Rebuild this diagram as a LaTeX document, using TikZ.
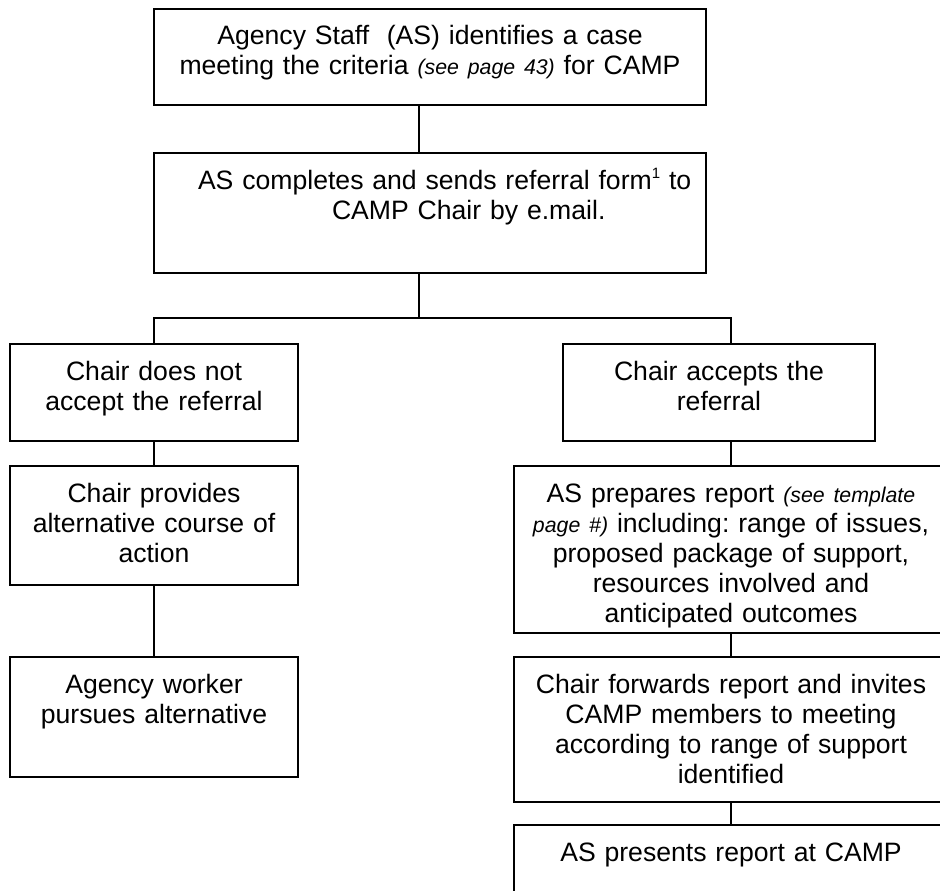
\documentclass[tikz,border=0pt]{standalone}
\usepackage{fontspec}
\setmainfont{Liberation Sans}
\frenchspacing
\newcommand\smallit[1]{{\fontsize{21.3}{30}\selectfont\itshape #1}}

\begin{document}
\begin{tikzpicture}[x=1pt,y=-1pt,
	flow/.style={draw,line width=1.5pt,inner sep=0pt,align=center,text height=36pt,
		font=\fontsize{26.6}{30}\selectfont},
	link/.style={line width=1.5pt}]
	\useasboundingbox (0,0) rectangle (940,891);
	\clip (0,0) rectangle (940,891);
	% main column
	\node[flow,text width=552pt,text depth=60pt] (crit) at (430,57)
		{Agency Staff\ \ (AS) identifies a case\\meeting the criteria \smallit{(see page 43)}\ for CAMP};
	\node[flow,align=left,text width=552pt,text depth=84pt] (send) at (430,213)
		{\hspace*{44pt}AS completes and sends referral form\raisebox{11pt}{\fontsize{15}{15}\selectfont 1} to\\\hspace*{178pt}CAMP Chair by e.mail.};
	\coordinate (fork) at (419,318);
	% referral not accepted
	\node[flow,text width=288pt,text depth=61pt] (reject) at (154,392.5)
		{Chair does not\\accept the referral};
	\node[flow,text width=288pt,text depth=83pt] (altern) at (154,525.5)
		{Chair provides\\alternative course of\\action};
	\node[flow,text width=288pt,text depth=84pt] (pursue) at (154,717)
		{Agency worker\\pursues alternative};
	% referral accepted
	\node[flow,text width=312pt,text depth=61pt] (accept) at (719,392.5)
		{Chair accepts the\\referral};
	\node[flow,text width=434pt,text depth=131pt] (report) at (731,549.5)
		{AS prepares report \smallit{(see template}\\\smallit{page \#)} including: range of issues,\\proposed package of support,\\resources involved and\\anticipated outcomes};
	\node[flow,text width=434pt,text depth=109pt] (invite) at (731,729.5)
		{Chair forwards report and invites\\CAMP members to meeting\\according to range of support\\identified};
	\node[flow,text width=434pt,text depth=64pt] (present) at (731,875)
		{AS presents report at CAMP};
	% connectors
	\draw[link] (crit.south -| fork) -- (send.north -| fork);
	\draw[link] (send.south -| fork) -- (fork);
	\draw[link] (reject.north) |- (fork) -| (accept.north -| report.north);
	\draw[link] (reject.south) -- (altern.north);
	\draw[link] (altern.south) -- (pursue.north);
	\draw[link] (accept.south -| report.north) -- (report.north);
	\draw[link] (report.south) -- (invite.north);
	\draw[link] (invite.south) -- (present.north);
\end{tikzpicture}
\end{document}
